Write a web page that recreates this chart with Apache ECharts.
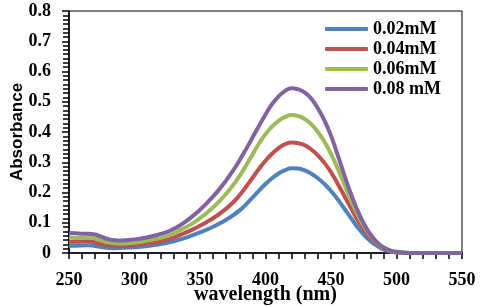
<!DOCTYPE html>
<html>
<head>
<meta charset="utf-8">
<script src="https://cdn.jsdelivr.net/npm/echarts@6/dist/echarts.min.js"></script>
<style>html,body{margin:0;padding:0;background:#fff}#c{width:480px;height:306px}</style>
</head>
<body>
<div id="c"></div>
<script>
var wavelength = [250,255,260,265,270,275,280,285,290,295,300,305,310,315,320,325,330,335,340,345,350,355,360,365,370,375,380,385,390,395,400,405,410,415,420,425,430,435,440,445,450,455,460,465,470,475,480,485,490,495,500,505,510,520,530,540,550];
var seriesNames = ['0.02mM','0.04mM','0.06mM','0.08 mM'];
var conc002 = [0.024,0.024,0.025,0.026,0.023,0.019,0.017,0.016,0.017,0.018,0.019,0.021,0.023,0.026,0.030,0.034,0.039,0.045,0.052,0.060,0.068,0.077,0.087,0.098,0.110,0.124,0.140,0.160,0.183,0.206,0.228,0.247,0.263,0.274,0.280,0.279,0.273,0.262,0.247,0.228,0.205,0.178,0.148,0.117,0.087,0.061,0.040,0.024,0.012,0.005,0.002,0.001,0,0,0,0,0];
var conc004 = [0.037,0.037,0.038,0.039,0.035,0.029,0.026,0.024,0.024,0.025,0.027,0.029,0.032,0.035,0.039,0.044,0.051,0.060,0.069,0.079,0.090,0.102,0.115,0.130,0.147,0.166,0.190,0.218,0.248,0.278,0.305,0.328,0.347,0.360,0.365,0.363,0.356,0.342,0.323,0.298,0.267,0.230,0.190,0.150,0.111,0.078,0.051,0.030,0.015,0.007,0.002,0.001,0,0,0,0,0];
var conc006 = [0.051,0.050,0.050,0.051,0.048,0.041,0.035,0.032,0.031,0.032,0.034,0.037,0.041,0.045,0.050,0.056,0.065,0.076,0.087,0.100,0.115,0.132,0.151,0.172,0.196,0.223,0.253,0.288,0.325,0.362,0.393,0.418,0.437,0.450,0.456,0.453,0.443,0.425,0.400,0.368,0.328,0.280,0.228,0.177,0.130,0.090,0.058,0.034,0.018,0.008,0.003,0.001,0,0,0,0,0];
var conc008 = [0.066,0.065,0.064,0.064,0.061,0.053,0.046,0.042,0.041,0.043,0.045,0.048,0.052,0.057,0.063,0.070,0.080,0.092,0.107,0.124,0.143,0.164,0.187,0.212,0.240,0.271,0.305,0.342,0.381,0.420,0.458,0.492,0.518,0.536,0.545,0.541,0.530,0.510,0.478,0.438,0.388,0.325,0.260,0.198,0.143,0.098,0.062,0.036,0.019,0.009,0.004,0.001,0,0,0,0,0];
var colors = ['#4F81BD','#C0504D','#9BBB59','#8064A2'];

function pairs(vals){ return wavelength.map(function(w,i){ return [w, vals[i]]; }); }
var allVals = [conc002, conc004, conc006, conc008];
var serif = '"Liberation Serif","Times New Roman",serif';

var chart = echarts.init(document.getElementById('c'));
chart.setOption({
  animation: false,
  grid: { left: 69, right: 18, top: 11, bottom: 53, containLabel: false, outerBoundsMode: 'none', show: true, borderColor: '#000', borderWidth: 1, backgroundColor: 'transparent' },
  legend: {
    orient: 'vertical', left: 320, top: 14,
    itemWidth: 43, itemHeight: 4, itemGap: 0, icon: 'roundRect',
    textStyle: { fontFamily: serif, fontWeight: 'bold', fontSize: 18, color: '#000', lineHeight: 20 },
    data: seriesNames
  },
  xAxis: {
    type: 'value', min: 250, max: 550, interval: 50,
    name: 'wavelength (nm)', nameLocation: 'middle', nameGap: 32, nameMoveOverlap: false,
    nameTextStyle: { fontFamily: serif, fontWeight: 'bold', fontSize: 20, color: '#000' },
    axisLine: { show: true, lineStyle: { color: '#000', width: 1.5 } },
    axisTick: { show: true, inside: false, length: 6, lineStyle: { color: '#000', width: 1.5 } },
    minorTick: { show: true, splitNumber: 5, length: 6, lineStyle: { color: '#000', width: 1.5 } },
    splitLine: { show: false },
    axisLabel: { fontFamily: serif, fontWeight: 'bold', fontSize: 18, color: '#000', margin: 18 }
  },
  yAxis: {
    type: 'value', min: 0, max: 0.8, interval: 0.1,
    name: 'Absorbance', nameLocation: 'middle', nameGap: 43, nameMoveOverlap: false,
    nameTextStyle: { fontFamily: '"Liberation Sans",Arial,sans-serif', fontWeight: 'bold', fontSize: 17, color: '#000' },
    axisLine: { show: true, lineStyle: { color: '#000', width: 1.5 } },
    axisTick: { show: true, inside: false, length: 7, lineStyle: { color: '#000', width: 1.5 } },
    minorTick: { show: true, splitNumber: 7, length: 6, lineStyle: { color: '#000', width: 1.5 } },
    splitLine: { show: false },
    axisLabel: { fontFamily: serif, fontWeight: 'bold', fontSize: 18, color: '#000', margin: 18,
      formatter: function(v){ return v === 0 ? '0' : v.toFixed(1); } }
  },
  series: seriesNames.map(function(n, i){
    return {
      name: n, type: 'line', smooth: true, showSymbol: false, symbol: 'none',
      data: pairs(allVals[i]),
      lineStyle: { width: 4, color: colors[i] },
      itemStyle: { color: colors[i] }
    };
  })
});
</script>
</body>
</html>
